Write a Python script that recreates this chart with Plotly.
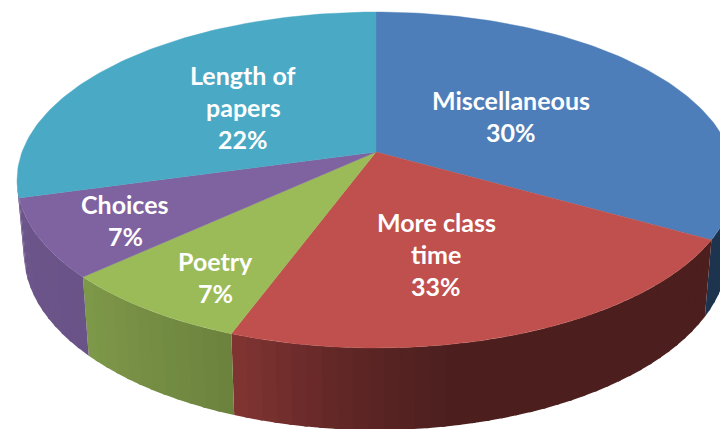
import math
import plotly.graph_objects as go

categories = ["Miscellaneous", "More class time", "Poetry", "Choices", "Length of papers"]
label_percent = [30, 33, 7, 7, 22]
drawn_share = [30.8, 25.8, 8.6, 8.1, 26.7]

# styling and layout constants
TOP = ["#4E7EB9", "#BF504D", "#9BBB59", "#7F63A1", "#4AA9C4"]
SIDE = [((30, 54, 82), (29, 51, 78)), ((76, 31, 30), (131, 53, 51)),
        ((107, 130, 62), (127, 153, 73)), ((106, 83, 135), (108, 85, 138)),
        ((106, 83, 135), (106, 83, 135))]
SIDE_FLAT_UNTIL = [0, 0.6, 0, 0, 0]
LINES = [["Miscellaneous"], ["More class", "time"], ["Poetry"], ["Choices"], ["Length of", "papers"]]
LABEL_TOP_LINE = [(511, 100), (436, 222), (215, 261), (125, 204), (243, 75)]
APEX = (376, 152)
CX, CY, RX, RY = 376, 180, 359, 168
BX, BY, BRX, BRY = 376, 254, 352, 176
FONT = "Lato"
FS = 25
LH = 32


def top(p):
    a = math.radians(p)
    return CX + RX * math.sin(a), CY - RY * math.cos(a)


def bottom(p):
    a = math.radians(p)
    return BX + BRX * math.sin(a), BY - BRY * math.cos(a)


fig = go.Figure()
total = sum(drawn_share)
start = 0.0
for i, share in enumerate(drawn_share):
    sweep = share / total * 360
    end = start + sweep
    # side wall, visible on the front half only
    a0, a1 = max(start, 90), min(end, 270)
    if a1 > a0:
        n = max(1, int((a1 - a0) / 2.5))
        for k in range(n):
            p0 = a0 + (a1 - a0) * k / n
            p1 = a0 + (a1 - a0) * (k + 1) / n
            p1x = min(p1 + 0.6, a1)
            t = (k + 0.5) / n
            flat = SIDE_FLAT_UNTIL[i]
            t = max(0.0, (t - flat) / (1 - flat)) ** (1.4 if flat else 1)
            c0, c1 = SIDE[i]
            col = "rgb(%d,%d,%d)" % tuple(round(c0[j] + (c1[j] - c0[j]) * t) for j in range(3))
            pts = [top(p0), top(p1x), bottom(p1x), bottom(p0), top(p0)]
            fig.add_trace(go.Scatter(x=[q[0] for q in pts], y=[q[1] for q in pts], mode="none",
                                     fill="toself", fillcolor=col,
                                     hoverinfo="skip", showlegend=False))
    start = end

start = 0.0
for i, share in enumerate(drawn_share):
    sweep = share / total * 360
    n = max(2, int(sweep))
    pts = [APEX] + [top(start + sweep * k / n) for k in range(n + 1)] + [APEX]
    fig.add_trace(go.Scatter(x=[q[0] for q in pts], y=[q[1] for q in pts], mode="lines",
                             fill="toself", fillcolor=TOP[i], line=dict(color=TOP[i], width=0.4),
                             name=categories[i], hoverinfo="skip", showlegend=False))
    start += sweep

for i, lines in enumerate(LINES):
    rows = lines + ["%d%%" % label_percent[i]]
    x, y0 = LABEL_TOP_LINE[i]
    for r, txt in enumerate(rows):
        fig.add_annotation(x=x, y=y0 + r * LH, text=txt,
                           showarrow=False, xanchor="center", yanchor="middle",
                           font=dict(family=FONT, size=FS, color="white", weight="bold"))

fig.update_layout(
    width=720, height=429, margin=dict(l=0, r=0, t=0, b=0),
    paper_bgcolor="white", plot_bgcolor="white", showlegend=False,
    xaxis=dict(range=[0, 720], visible=False, fixedrange=True),
    yaxis=dict(range=[429, 0], visible=False, fixedrange=True),
)
fig.write_html("out.html", config=dict(displayModeBar=False),
               post_script="document.body.style.margin='0';document.documentElement.style.overflow='hidden';")
